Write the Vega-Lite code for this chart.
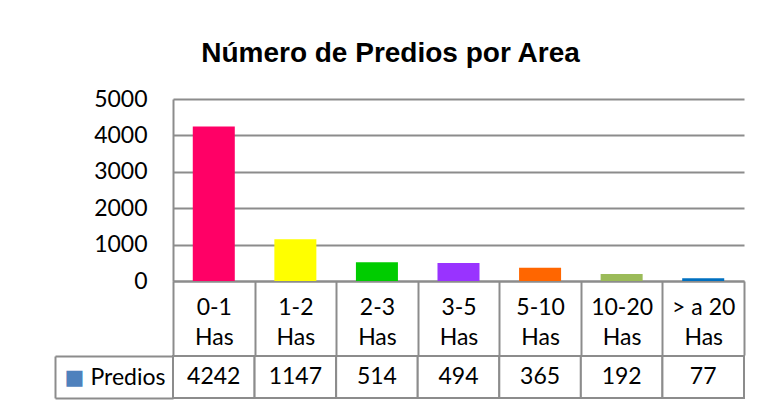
{
  "$schema": "https://vega.github.io/schema/vega-lite/v6.json",
  "padding": {"left": 54, "top": 40, "right": 10, "bottom": 2},
  "background": "white",
  "title": {"text": "Número de Predios por Area", "font": "Liberation Sans", "fontSize": 28, "fontWeight": "bold", "color": "#000000", "anchor": "middle", "offset": 20, "dx": -9},
  "data": {"values": [
    {"area": "0-1 Has", "predios": 4242, "serie": "Predios"},
    {"area": "1-2 Has", "predios": 1147, "serie": "Predios"},
    {"area": "2-3 Has", "predios": 514, "serie": "Predios"},
    {"area": "3-5 Has", "predios": 494, "serie": "Predios"},
    {"area": "5-10 Has", "predios": 365, "serie": "Predios"},
    {"area": "10-20 Has", "predios": 192, "serie": "Predios"},
    {"area": "> a 20 Has", "predios": 77, "serie": "Predios"}
  ]},
  "spacing": -13,
  "vconcat": [
    {
      "width": 571,
      "height": 182,
      "mark": {"type": "bar", "width": {"band": 0.515}},
      "encoding": {
        "x": {"field": "area", "type": "nominal", "sort": null,
          "scale": {"paddingInner": 0, "paddingOuter": 0},
          "axis": {"title": null, "labelAngle": 0, "domain": true, "domainColor": "#8c8c8c", "domainWidth": 2,
            "ticks": true, "tickBand": "extent", "tickSize": 74, "tickColor": "#8c8c8c", "tickWidth": 2,
            "labelFont": "Lato", "labelFontSize": 23, "labelColor": "#000000", "labelPadding": -59, "labelLineHeight": 30,
            "labelBaseline": "top", "labelOverlap": false,
            "labelExpr": "indexof(datum.label, 'Has') < 0 ? '' : [replace(datum.label, ' Has', ''), 'Has']"}},
        "y": {"field": "predios", "type": "quantitative",
          "scale": {"domain": [0, 5000], "nice": false},
          "axis": {"title": null, "values": [0, 1000, 2000, 3000, 4000, 5000], "format": "d", "grid": true, "gridColor": "#8c8c8c", "gridWidth": 2,
            "domain": true, "domainColor": "#8c8c8c", "domainWidth": 2, "ticks": false,
            "labelFont": "Lato", "labelFontSize": 23, "labelColor": "#000000", "labelPadding": 26}},
        "color": {"field": "area", "type": "nominal", "sort": null,
          "scale": {"domain": ["0-1 Has", "1-2 Has", "2-3 Has", "3-5 Has", "5-10 Has", "10-20 Has", "> a 20 Has"],
            "range": ["#FF0066", "#FFFF00", "#00CC00", "#9933FF", "#FF6600", "#9BBB59", "#0070C0"]},
          "legend": null}
      }
    },
    {
      "width": 571,
      "height": 42,
      "layer": [
        {
          "mark": {"type": "rect", "fill": "white", "stroke": "#8c8c8c", "strokeWidth": 2},
          "encoding": {
            "x": {"field": "area", "type": "nominal", "sort": null, "scale": {"paddingInner": 0, "paddingOuter": 0}, "axis": null},
            "y": {"field": "serie", "type": "nominal", "scale": {"paddingInner": 0, "paddingOuter": 0},
              "axis": {"title": null, "orient": "left", "domain": false, "ticks": true, "tickBand": "extent", "tickSize": 118,
                "tickColor": "#8c8c8c", "tickWidth": 2, "labelFont": "Lato", "labelFontSize": 23, "labelColor": "#000000",
                "labelPadding": -110, "labelAlign": "right"}}
          }
        },
        {
          "mark": {"type": "text", "font": "Lato", "fontSize": 23, "color": "#000000"},
          "encoding": {
            "x": {"field": "area", "type": "nominal", "sort": null, "scale": {"paddingInner": 0, "paddingOuter": 0}, "axis": null},
            "y": {"field": "serie", "type": "nominal", "scale": {"paddingInner": 0, "paddingOuter": 0},
              "axis": {"title": null, "orient": "left", "offset": 118, "domain": true, "domainColor": "#8c8c8c", "domainWidth": 2,
                "ticks": false, "labelExpr": "'■'", "labelColor": "#4F81BD", "labelFont": "DejaVu Sans", "labelFontSize": 21,
                "labelAlign": "left", "labelPadding": -9}},
            "text": {"field": "predios", "type": "quantitative"}
          }
        }
      ],
      "resolve": {"scale": {"y": "independent"}, "axis": {"y": "independent"}}
    }
  ],
  "config": {"view": {"stroke": null}}
}
